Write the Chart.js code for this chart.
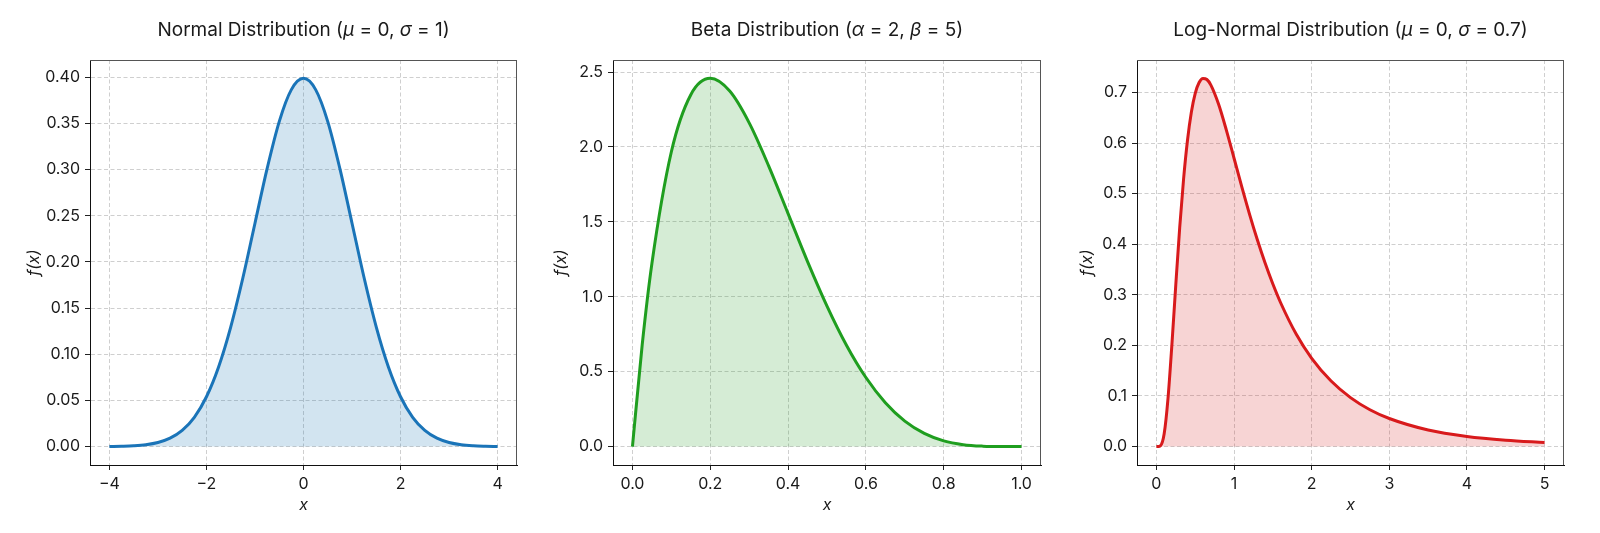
<!DOCTYPE html>
<html>
<head>
<meta charset="utf-8">
<script src="https://cdn.jsdelivr.net/npm/chart.js@4.4.1/dist/chart.umd.min.js"></script>
<style>
    html, body { margin: 0; padding: 0; background: #fff; }
    #wrap { position: relative; width: 1600px; height: 533px; }
    canvas { position: absolute; top: 0; }
</style>
</head>
<body>
<div id="wrap">
    <canvas id="normal" width="530" height="533" style="left:0px"></canvas>
    <canvas id="beta" width="530" height="533" style="left:530px"></canvas>
    <canvas id="lognormal" width="540" height="533" style="left:1060px"></canvas>
</div>
<script>
// Normal distribution (mu = 0, sigma = 1)
const normalX = [-4, -3.75, -3.5, -3.25, -3, -2.75, -2.5, -2.25, -2, -1.75, -1.5, -1.25, -1, -0.75, -0.5, -0.25, 0,
                 0.25, 0.5, 0.75, 1, 1.25, 1.5, 1.75, 2, 2.25, 2.5, 2.75, 3, 3.25, 3.5, 3.75, 4];
const normalY = [0.0001, 0.0004, 0.0009, 0.0020, 0.0044, 0.0091, 0.0175, 0.0317, 0.0540, 0.0863, 0.1295, 0.1826, 0.2420, 0.3011, 0.3521, 0.3867, 0.3989,
                 0.3867, 0.3521, 0.3011, 0.2420, 0.1826, 0.1295, 0.0863, 0.0540, 0.0317, 0.0175, 0.0091, 0.0044, 0.0020, 0.0009, 0.0004, 0.0001];
const normalTicksX = [-4, -2, 0, 2, 4];
const normalTicksY = [0, 0.05, 0.10, 0.15, 0.20, 0.25, 0.30, 0.35, 0.40];

// Beta distribution (alpha = 2, beta = 5), middle panel
const betaX = [0, 0.025, 0.05, 0.1, 0.15, 0.2, 0.25, 0.3, 0.35, 0.4, 0.45, 0.5, 0.55, 0.6, 0.65, 0.7, 0.75, 0.8, 0.85, 0.9, 0.95, 1];
const betaY = [0, 0.678, 1.222, 1.968, 2.349, 2.458, 2.373, 2.161, 1.874, 1.555, 1.235, 0.938, 0.677, 0.461, 0.293, 0.170, 0.088, 0.038, 0.013, 0.003, 0.0002, 0];
const betaTicksX = [0, 0.2, 0.4, 0.6, 0.8, 1.0];
const betaTicksY = [0, 0.5, 1.0, 1.5, 2.0, 2.5];

// Log-normal distribution (mu = 0, sigma = 0.7), right panel
const lognormX = [0, 0.025, 0.05, 0.1, 0.15, 0.2, 0.25, 0.3, 0.35, 0.4, 0.45, 0.5, 0.55, 0.6, 0.65, 0.7, 0.8, 0.9, 1.0,
                  1.1, 1.2, 1.3, 1.4, 1.5, 1.6, 1.8, 2.0, 2.25, 2.5, 2.75, 3.0, 3.5, 4.0, 4.5, 5.0];
const lognormY = [0, 0.00002, 0.0012, 0.0255, 0.0965, 0.2027, 0.3207, 0.4327, 0.5289, 0.6050, 0.6607, 0.6981, 0.7195, 0.7277, 0.7255, 0.7150, 0.6771, 0.6261, 0.5699,
                  0.5133, 0.4591, 0.4087, 0.3627, 0.3212, 0.2843, 0.2225, 0.1745, 0.1295, 0.0968, 0.0729, 0.0555, 0.0328, 0.0200, 0.0126, 0.0081];
const lognormTicksX = [0, 1, 2, 3, 4, 5];
const lognormTicksY = [0, 0.1, 0.2, 0.3, 0.4, 0.5, 0.6, 0.7];

const normalTitle = [['Normal Distribution (', false], ['\u03BC', true], [' = 0, ', false], ['\u03C3', true], [' = 1)', false]];
const betaTitle = [['Beta Distribution (', false], ['\u03B1', true], [' = 2, ', false], ['\u03B2', true], [' = 5)', false]];
const lognormTitle = [['Log-Normal Distribution (', false], ['\u03BC', true], [' = 0, ', false], ['\u03C3', true], [' = 0.7)', false]];

const FONT = 'Inter, "Noto Sans", sans-serif';
const TEXT = '#1a1a1a';

const minus = (s) => s.replace('-', '\u2212');

// Title with italic greek letters, centred over the plot area
const panelTitle = {
    id: 'panelTitle',
    afterDraw: (chart, args, opts) => {
        const ctx = chart.ctx;
        const area = chart.chartArea;
        const fontFor = (italic) => (italic ? 'italic ' : '') + '19px ' + FONT;
        ctx.save();
        ctx.fillStyle = TEXT;
        ctx.textBaseline = 'middle';
        let total = 0;
        opts.parts.forEach(p => { ctx.font = fontFor(p[1]); total += ctx.measureText(p[0]).width; });
        let x = (area.left + area.right) / 2 - total / 2;
        opts.parts.forEach(p => {
            ctx.font = fontFor(p[1]);
            ctx.fillText(p[0], x, 30);
            x += ctx.measureText(p[0]).width;
        });
        ctx.restore();
    }
};

// top and right spines
const frame = {
    id: 'frame',
    afterDatasetsDraw: (chart) => {
        const ctx = chart.ctx;
        const a = chart.chartArea;
        ctx.save();
        ctx.lineWidth = 1;
        ctx.strokeStyle = '#555';
        ctx.beginPath();
        ctx.moveTo(a.left, a.top + 0.5);
        ctx.lineTo(a.right, a.top + 0.5);
        ctx.moveTo(a.right - 0.5, a.top);
        ctx.lineTo(a.right - 0.5, a.bottom);
        ctx.stroke();
        ctx.restore();
    }
};

function makePanel(id, xs, ys, cfg) {
    const points = xs.map((x, i) => ({ x: x, y: ys[i] }));
    const axisBase = (ticks, fmt) => ({
        type: 'linear',
        afterBuildTicks: (scale) => { scale.ticks = ticks.map(v => ({ value: v })); },
        grid: { color: '#cfcfcf', lineWidth: 1, tickColor: '#222', tickLength: 5, tickWidth: 1 },
        border: { color: '#111', width: 1, dash: [4, 2.5] },
        ticks: {
            color: TEXT, padding: 5, maxRotation: 0, autoSkip: false,
            font: { family: FONT, size: 16 },
            callback: (v) => minus(fmt(v))
        }
    });

    const x = axisBase(cfg.ticksX, cfg.fmtX);
    x.min = cfg.xMin; x.max = cfg.xMax;
    x.afterFit = (scale) => { scale.height = 68; };
    x.title = { display: true, text: 'x', color: TEXT, font: { family: FONT, size: 16, style: 'italic' }, padding: { top: 0, bottom: 18 } };

    const y = axisBase(cfg.ticksY, cfg.fmtY);
    y.min = cfg.yMin; y.max = cfg.yMax;
    y.afterFit = (scale) => { scale.width = cfg.yWidth; };
    y.title = { display: true, text: 'f(x)', color: TEXT, font: { family: FONT, size: 16, style: 'italic' }, padding: { top: cfg.yTitlePad, bottom: 0 } };

    return new Chart(document.getElementById(id), {
        type: 'line',
        data: {
            datasets: [{
                data: points,
                borderColor: cfg.color,
                backgroundColor: cfg.fill,
                borderWidth: 3,
                pointRadius: 0,
                fill: 'origin',
                cubicInterpolationMode: 'monotone'
            }]
        },
        options: {
            responsive: false,
            animation: false,
            devicePixelRatio: 1,
            layout: { padding: { top: 60, right: cfg.padRight, bottom: 0, left: 0 } },
            scales: { x: x, y: y },
            plugins: {
                legend: { display: false },
                tooltip: { enabled: false },
                panelTitle: { parts: cfg.title }
            }
        },
        plugins: [panelTitle, frame]
    });
}

makePanel('normal', normalX, normalY, {
    title: normalTitle, color: '#1a74b8', fill: 'rgba(31,119,180,0.2)',
    ticksX: normalTicksX, ticksY: normalTicksY, fmtX: (v) => String(v), fmtY: (v) => v.toFixed(2),
    xMin: -4.4, xMax: 4.4, yMin: -0.01995, yMax: 0.4188,
    yWidth: 90, padRight: 13, yTitlePad: 25
});

makePanel('beta', betaX, betaY, {
    title: betaTitle, color: '#1f9e1f', fill: 'rgba(44,160,44,0.2)',
    ticksX: betaTicksX, ticksY: betaTicksY, fmtX: (v) => v.toFixed(1), fmtY: (v) => v.toFixed(1),
    xMin: -0.05, xMax: 1.05, yMin: -0.1229, yMax: 2.5805,
    yWidth: 83, padRight: 19, yTitlePad: 22
});

makePanel('lognormal', lognormX, lognormY, {
    title: lognormTitle, color: '#d81a1c', fill: 'rgba(214,39,40,0.2)',
    ticksX: lognormTicksX, ticksY: lognormTicksY, fmtX: (v) => String(v), fmtY: (v) => v.toFixed(1),
    xMin: -0.25, xMax: 5.25, yMin: -0.0364, yMax: 0.7641,
    yWidth: 77, padRight: 36, yTitlePad: 18
});
</script>
</body>
</html>
